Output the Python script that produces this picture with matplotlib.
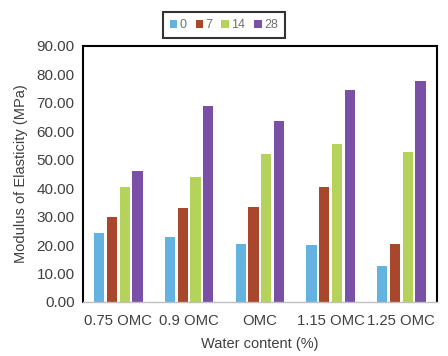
import numpy as np
import matplotlib.pyplot as plt

plt.rcParams['font.family'] = ['Liberation Sans', 'DejaVu Sans']

groups = ['0.75 OMC', '0.9 OMC', 'OMC', '1.15 OMC', '1.25 OMC']
series = ['0', '7', '14', '28']
day0 = [24.3, 22.7, 20.5, 20.0, 12.5]
day7 = [29.8, 33.0, 33.5, 40.5, 20.5]
day14 = [40.5, 43.8, 52.0, 55.5, 52.8]
day28 = [46.0, 69.0, 63.5, 74.5, 77.5]
colors = ['#63B2E0', '#A8472C', '#B5D25A', '#7A4FA6']

fig = plt.figure(figsize=(4.48, 3.56), dpi=100)
ax = fig.add_axes([0.185, 0.152, 0.79, 0.719])

x = np.arange(len(groups))
w = 0.145
step = 0.18
for i, vals in enumerate([day0, day7, day14, day28]):
    ax.bar(x + (i - 1.5) * step, vals, w, color=colors[i], label=series[i])

ax.set_xlim(-0.5, 4.5)
ax.set_ylim(0, 90)
ax.set_yticks(np.arange(0, 91, 10))
ax.set_yticklabels(['%.2f' % v for v in np.arange(0, 91, 10)])
ax.set_xticks(x)
ax.set_xticklabels(groups)
ax.tick_params(axis='both', length=0, labelsize=11, colors='#404040', pad=6)
ax.tick_params(axis='x', pad=9, labelsize=10.7)
for s in ['top', 'left', 'right']:
    ax.spines[s].set_color('black')
    ax.spines[s].set_linewidth(1.5)
ax.spines['bottom'].set_color('#BFBFBF')
ax.spines['bottom'].set_linewidth(1.0)

ax.set_xlabel('Water content (%)', fontsize=10.5, color='#404040', labelpad=6)
ax.set_ylabel('Modulus of Elasticity (MPa)', fontsize=10.5, color='#404040', labelpad=6)

leg = fig.legend(loc='center', bbox_to_anchor=(224 / 448, 1 - 25 / 356), ncol=4,
                 fontsize=9, frameon=True, fancybox=False, handlelength=0.6,
                 handleheight=0.6, handletextpad=0.2, columnspacing=0.7,
                 borderpad=0.55, labelcolor='#707070')
leg.get_frame().set_edgecolor('black')
leg.get_frame().set_linewidth(1.5)

fig.savefig('out.png', dpi=100)
